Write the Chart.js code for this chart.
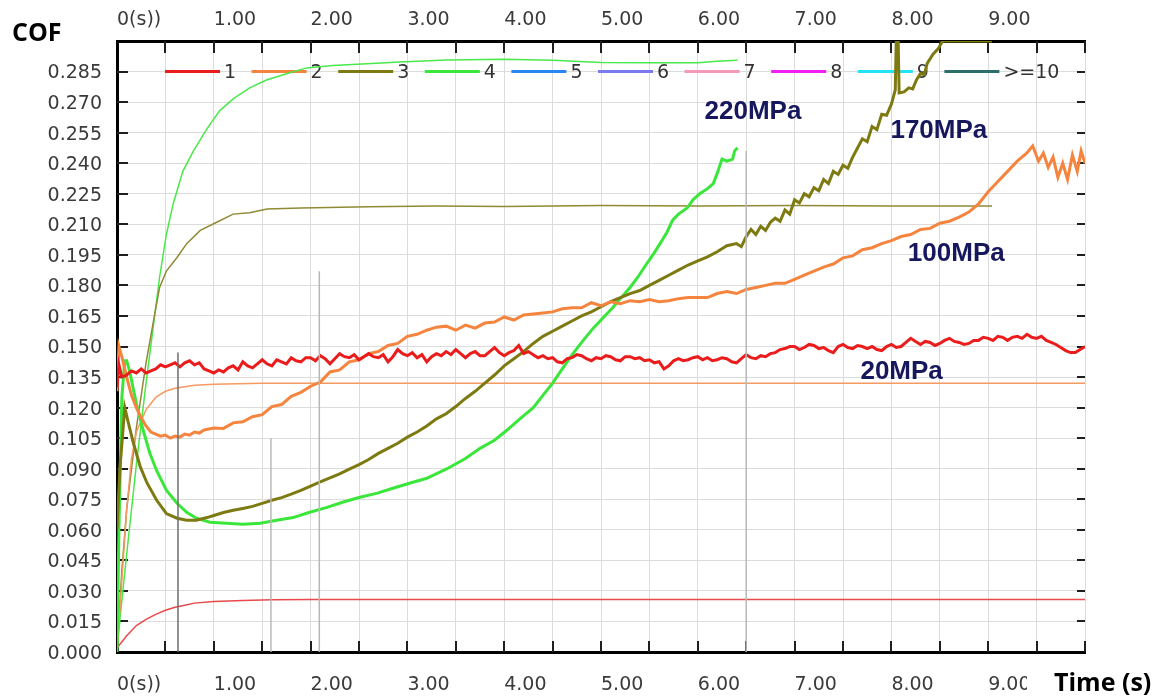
<!DOCTYPE html>
<html>
<head>
<meta charset="utf-8">
<title>COF vs time</title>
<script src="https://cdn.jsdelivr.net/npm/chart.js@4.4.1/dist/chart.umd.min.js"></script>
<style>
  html, body { margin: 0; padding: 0; background: #fff; }
  #wrap { position: relative; width: 1161px; height: 698px; }
</style>
</head>
<body>
<div id="wrap"><canvas id="cofChart"></canvas></div>
<script>
// ---- data (time in s, COF) ----

// 20MPa, thick COF trace
const redThickT = [
  0, 0.02, 0.05, 0.1, 0.15, 0.2, 0.25, 0.3, 0.35, 0.4, 0.45, 0.5, 0.55, 0.6, 0.65, 0.7, 0.75, 0.8, 0.85, 0.9, 0.95,
  1.00, 1.05, 1.10, 1.15, 1.20, 1.25, 1.30, 1.35, 1.40, 1.45, 1.50, 1.55, 1.60, 1.65, 1.70, 1.75, 1.80, 1.85, 1.90, 1.95,
  2.00, 2.05, 2.10, 2.15, 2.20, 2.25, 2.30, 2.35, 2.40, 2.45, 2.50, 2.55, 2.60, 2.65, 2.70, 2.75, 2.80, 2.85, 2.90, 2.95,
  3.00, 3.05, 3.10, 3.15, 3.20, 3.25, 3.30, 3.35, 3.40, 3.45, 3.50, 3.55, 3.60, 3.65, 3.70, 3.75, 3.80, 3.85, 3.90, 3.95,
  4.00, 4.05, 4.10, 4.15, 4.20, 4.25, 4.30, 4.35, 4.40, 4.45, 4.50, 4.55, 4.60, 4.65, 4.70, 4.75, 4.80, 4.85, 4.90, 4.95,
  5.00, 5.05, 5.10, 5.15, 5.20, 5.25, 5.30, 5.35, 5.40, 5.45, 5.50, 5.55, 5.60, 5.65, 5.70, 5.75, 5.80, 5.85, 5.90, 5.95,
  6.00, 6.05, 6.10, 6.15, 6.20, 6.25, 6.30, 6.35, 6.40, 6.45, 6.50, 6.55, 6.60, 6.65, 6.70, 6.75, 6.80, 6.85, 6.90, 6.95,
  7.00, 7.05, 7.10, 7.15, 7.20, 7.25, 7.30, 7.35, 7.40, 7.45, 7.50, 7.55, 7.60, 7.65, 7.70, 7.75, 7.80, 7.85, 7.90, 7.95,
  8.00, 8.05, 8.10, 8.15, 8.20, 8.25, 8.30, 8.35, 8.40, 8.45, 8.50, 8.55, 8.60, 8.65, 8.70, 8.75, 8.80, 8.85, 8.90, 8.95,
  9.00, 9.05, 9.10, 9.15, 9.20, 9.25, 9.30, 9.35, 9.40, 9.45, 9.50, 9.55, 9.60, 9.65, 9.70, 9.75, 9.80, 9.85, 9.90, 9.95, 10.00
];
const redThickV = [
  0.130, 0.141, 0.135, 0.136, 0.138, 0.137, 0.139, 0.137, 0.138, 0.139, 0.141, 0.140, 0.141, 0.142, 0.140, 0.142, 0.143, 0.141, 0.142, 0.139, 0.138,
  0.1370, 0.1385, 0.1375, 0.1395, 0.1405, 0.1385, 0.1425, 0.1405, 0.1395, 0.1415, 0.1435, 0.1415, 0.1405, 0.1435, 0.1425, 0.1415, 0.1445, 0.1430, 0.1425, 0.1445,
  0.1445, 0.1430, 0.1455, 0.1440, 0.1415, 0.1440, 0.1465, 0.1450, 0.1445, 0.1460, 0.1435, 0.1450, 0.1465, 0.1450, 0.1445, 0.1460, 0.1425, 0.1450, 0.1485, 0.1465,
  0.1455, 0.1470, 0.1445, 0.1460, 0.1425, 0.1450, 0.1465, 0.1455, 0.1475, 0.1460, 0.1485, 0.1465, 0.1445, 0.1465, 0.1475, 0.1455, 0.1455, 0.1475, 0.1495, 0.1470,
  0.1455, 0.1470, 0.1480, 0.1505, 0.1465, 0.1475, 0.1460, 0.1445, 0.1455, 0.1440, 0.1445, 0.1425, 0.1420, 0.1440, 0.1445, 0.1460, 0.1455, 0.1440, 0.1430, 0.1445,
  0.1440, 0.1455, 0.1450, 0.1435, 0.1430, 0.1450, 0.1450, 0.1440, 0.1445, 0.1430, 0.1435, 0.1420, 0.1425, 0.1390, 0.1405, 0.1430, 0.1440, 0.1430, 0.1435, 0.1445,
  0.1450, 0.1435, 0.1445, 0.1430, 0.1435, 0.1445, 0.1440, 0.1425, 0.1420, 0.1440, 0.1460, 0.1445, 0.1440, 0.1455, 0.1450, 0.1465, 0.1470, 0.1485, 0.1490, 0.1500,
  0.1500, 0.1485, 0.1495, 0.1510, 0.1505, 0.1490, 0.1495, 0.1480, 0.1470, 0.1500, 0.1510, 0.1495, 0.1490, 0.1505, 0.1500, 0.1490, 0.1500, 0.1485, 0.1480, 0.1500,
  0.1510, 0.1495, 0.1500, 0.1520, 0.1540, 0.1525, 0.1510, 0.1525, 0.1520, 0.1505, 0.1515, 0.1530, 0.1540, 0.1525, 0.1520, 0.1510, 0.1515, 0.1530, 0.1530, 0.1545,
  0.1540, 0.1530, 0.1550, 0.1545, 0.1530, 0.1545, 0.1550, 0.1540, 0.1560, 0.1545, 0.1540, 0.1550, 0.1530, 0.1520, 0.1510, 0.1495, 0.1480, 0.1470, 0.1470, 0.1485, 0.1500
];
// 20MPa, thin trace
const redThinT = [0, 0.1, 0.2, 0.3, 0.4, 0.5, 0.6, 0.7, 0.8, 1.0, 1.3, 1.6, 2.0, 10.0];
const redThinV = [0.002, 0.008, 0.013, 0.016, 0.0185, 0.0205, 0.022, 0.023, 0.024, 0.0248, 0.0253, 0.0256, 0.0258, 0.0258];

// 100MPa, thick COF trace
const orangeThickT = [
  0, 0.02, 0.05, 0.1, 0.15, 0.2, 0.25, 0.3, 0.35, 0.4, 0.45, 0.5, 0.55, 0.6, 0.65, 0.7, 0.75, 0.8, 0.85, 0.9,
  1.0, 1.1, 1.2, 1.3, 1.4, 1.5, 1.6, 1.7, 1.8, 1.9,
  2.0, 2.1, 2.2, 2.3, 2.4, 2.5, 2.6, 2.7, 2.8, 2.9,
  3.0, 3.1, 3.2, 3.3, 3.4, 3.5, 3.6, 3.7, 3.8, 3.9,
  4.0, 4.1, 4.2, 4.3, 4.4, 4.5, 4.6, 4.7, 4.8, 4.9,
  5.0, 5.1, 5.2, 5.3, 5.4, 5.5, 5.6, 5.7, 5.8, 5.9,
  6.0, 6.1, 6.2, 6.3, 6.4, 6.5, 6.6, 6.7, 6.8, 6.9,
  7.0, 7.1, 7.2, 7.3, 7.4, 7.5, 7.6, 7.7, 7.8, 7.9,
  8.0, 8.1, 8.2, 8.3, 8.4, 8.5, 8.6, 8.7, 8.8, 8.9,
  9.0, 9.1, 9.2, 9.3, 9.4, 9.46, 9.52, 9.57, 9.62, 9.67, 9.72, 9.77, 9.82, 9.87, 9.92, 9.96, 10.0
];
const orangeThickV = [
  0.128, 0.150, 0.145, 0.135, 0.126, 0.120, 0.115, 0.111, 0.108, 0.107, 0.106, 0.1065, 0.105, 0.106, 0.1055, 0.107, 0.1065, 0.108, 0.1075, 0.109,
  0.110, 0.1098, 0.1125, 0.113, 0.1155, 0.1165, 0.1205, 0.1215, 0.1255, 0.1275,
  0.1305, 0.1325, 0.1375, 0.1385, 0.1425, 0.1435, 0.1465, 0.1475, 0.1505, 0.1515,
  0.1550, 0.1560, 0.1580, 0.1595, 0.1600, 0.1580, 0.1605, 0.1590, 0.1615, 0.1620,
  0.1645, 0.1630, 0.1655, 0.1660, 0.1665, 0.1670, 0.1685, 0.1690, 0.1690, 0.1715,
  0.1700, 0.1720, 0.1710, 0.1725, 0.1720, 0.1730, 0.1720, 0.1725, 0.1735, 0.1740,
  0.1740, 0.1740, 0.1760, 0.1770, 0.1760, 0.1780, 0.1790, 0.1800, 0.1810, 0.1810,
  0.1830, 0.1850, 0.1870, 0.1890, 0.1905, 0.1935, 0.1945, 0.1975, 0.1985, 0.2005,
  0.2020, 0.2040, 0.2050, 0.2075, 0.2080, 0.2105, 0.2115, 0.2135, 0.2160, 0.2200,
  0.226, 0.231, 0.236, 0.241, 0.245, 0.2485, 0.241, 0.245, 0.238, 0.243, 0.233, 0.240, 0.232, 0.244, 0.236, 0.246, 0.240
];
// 100MPa, thin trace
const orangeThinT = [0, 0.05, 0.1, 0.15, 0.2, 0.3, 0.4, 0.5, 0.6, 0.8, 1.0, 1.5, 2.0, 10.0];
const orangeThinV = [0, 0.035, 0.07, 0.095, 0.108, 0.119, 0.125, 0.128, 0.1295, 0.131, 0.1315, 0.132, 0.132, 0.132];

// 170MPa, thick COF trace
const oliveThickT = [
  0, 0.03, 0.08, 0.12, 0.17, 0.24, 0.31, 0.41, 0.51, 0.62, 0.72, 0.82, 0.93,
  1.0, 1.1, 1.2, 1.3, 1.4, 1.5, 1.6, 1.7, 1.8, 1.9,
  2.0, 2.1, 2.2, 2.3, 2.4, 2.5, 2.6, 2.7, 2.8, 2.9,
  3.0, 3.1, 3.2, 3.3, 3.4, 3.5, 3.6, 3.7, 3.8, 3.9,
  4.0, 4.1, 4.2, 4.3, 4.4, 4.5, 4.6, 4.7, 4.8, 4.9,
  5.0, 5.1, 5.2, 5.3, 5.4, 5.5, 5.6, 5.7, 5.8, 5.9,
  6.0, 6.1, 6.2, 6.3, 6.4, 6.45, 6.5, 6.55, 6.6, 6.65, 6.7, 6.75, 6.8, 6.85, 6.9, 6.95,
  7.0, 7.05, 7.1, 7.15, 7.2, 7.25, 7.3, 7.35, 7.4, 7.45, 7.5, 7.55, 7.6, 7.65, 7.7, 7.75, 7.8, 7.85, 7.9, 7.95,
  8.0, 8.04, 8.05, 8.07, 8.08, 8.13, 8.18, 8.22, 8.26, 8.3, 8.34, 8.37, 8.43, 8.48, 8.53, 9.04
];
const oliveThickV = [
  0.060, 0.090, 0.120, 0.112, 0.1025, 0.091, 0.083, 0.0745, 0.068, 0.0657, 0.0647, 0.0647, 0.066,
  0.067, 0.0685, 0.0696, 0.0705, 0.0715, 0.073, 0.0745, 0.0758, 0.0775, 0.0794,
  0.0815, 0.0835, 0.0855, 0.0875, 0.0898, 0.092, 0.0945, 0.0975, 0.100, 0.1025,
  0.1055, 0.108, 0.111, 0.1145, 0.117, 0.1205, 0.1245, 0.128, 0.132, 0.136,
  0.1405, 0.144, 0.1475, 0.1515, 0.155, 0.1575, 0.160, 0.1625, 0.165, 0.167,
  0.1695, 0.172, 0.174, 0.176, 0.1775, 0.180, 0.1825, 0.185, 0.1875, 0.190,
  0.192, 0.194, 0.1965, 0.1995, 0.2005, 0.199, 0.204, 0.2075, 0.205, 0.209, 0.207, 0.211, 0.213, 0.2115, 0.217, 0.215,
  0.222, 0.2205, 0.225, 0.2235, 0.228, 0.2265, 0.232, 0.230, 0.236, 0.2345, 0.239, 0.2375, 0.243, 0.2475, 0.252, 0.2505, 0.258, 0.2565, 0.264, 0.2635,
  0.269, 0.276, 0.300, 0.300, 0.2745, 0.275, 0.277, 0.2765, 0.281, 0.284, 0.2835, 0.289, 0.2935, 0.296, 0.300, 0.300
];
// 170MPa, thin trace
const oliveThinT = [0, 0.05, 0.1, 0.2, 0.3, 0.39, 0.44, 0.51, 0.62, 0.72, 0.86, 1.03, 1.2, 1.37, 1.55, 1.9, 2.6, 3.3, 4.0, 5.0, 6.0, 7.0, 8.0, 9.04];
const oliveThinV = [0, 0.04, 0.07, 0.11, 0.142, 0.166, 0.179, 0.187, 0.1937, 0.2005, 0.207, 0.211, 0.215, 0.2157, 0.2175, 0.218, 0.2186, 0.219, 0.2188, 0.2192, 0.219, 0.2192, 0.219, 0.219];

// 220MPa, thick COF trace
const greenThickT = [
  0, 0.02, 0.05, 0.08, 0.1, 0.13, 0.2, 0.27, 0.34, 0.41, 0.51, 0.62, 0.72, 0.82, 0.96,
  1.13, 1.3, 1.48, 1.65, 1.82, 1.99, 2.17, 2.33, 2.51, 2.69, 2.85, 3.03, 3.2, 3.41, 3.6, 3.75, 3.9,
  4.03, 4.15, 4.3, 4.4, 4.5, 4.6, 4.71, 4.8, 4.92, 5.02, 5.12, 5.2, 5.3, 5.38, 5.47, 5.55,
  5.61, 5.68, 5.74, 5.8, 5.89, 5.95, 6.02, 6.1, 6.16, 6.2, 6.25, 6.3, 6.36, 6.38, 6.41
];
const greenThickV = [
  0.000, 0.060, 0.125, 0.143, 0.143, 0.138, 0.122, 0.109, 0.0975, 0.089, 0.0794, 0.073, 0.0686, 0.0657, 0.0637,
  0.0632, 0.0627, 0.0632, 0.0647, 0.066, 0.0686, 0.071, 0.0735, 0.076, 0.078, 0.0804, 0.083, 0.0853, 0.090, 0.095, 0.100, 0.104,
  0.109, 0.114, 0.120, 0.126, 0.132, 0.139, 0.1465, 0.152, 0.159, 0.164, 0.169, 0.1735, 0.179, 0.184, 0.1905, 0.196,
  0.2005, 0.206, 0.212, 0.215, 0.218, 0.222, 0.225, 0.2275, 0.230, 0.235, 0.242, 0.241, 0.242, 0.246, 0.2476
];
// 220MPa, thin trace
const greenThinT = [0, 0.03, 0.1, 0.2, 0.3, 0.37, 0.44, 0.51, 0.58, 0.68, 0.79, 0.93, 1.06, 1.2, 1.37, 1.55, 1.76, 1.96, 2.23, 2.58, 2.92, 3.41, 4.0, 4.5, 5.0, 5.5, 6.0, 6.2, 6.41];
const greenThinV = [0, 0.016, 0.048, 0.092, 0.132, 0.158, 0.184, 0.205, 0.220, 0.236, 0.246, 0.257, 0.2657, 0.2716, 0.277, 0.281, 0.284, 0.2868, 0.288, 0.2888, 0.2897, 0.2907, 0.291, 0.2905, 0.2895, 0.2893, 0.2893, 0.290, 0.2905];

// grey cursor lines left by the recording software
const markerT = [0.63, 1.59, 2.09, 6.50];
const markerTop = [0.147, 0.105, 0.187, 0.246];

// legend of the instrument (channels 1 .. >=10)
const legendLabels = ['1', '2', '3', '4', '5', '6', '7', '8', '9', '>=10'];
const legendColors = ['#ea1c1c', '#f5843e', '#7d7a12', '#3be63b', '#2a86f0', '#7b7bef', '#f49ab8', '#f020f0', '#22e4f4', '#2e6e6a'];

// pressure annotations
const pressureLabels = ['220MPa', '170MPa', '100MPa', '20MPa'];
const pressureX = [6.07, 7.99, 8.17, 7.68];
const pressureY = [0.2652, 0.2559, 0.1956, 0.1377];

// ---- chart ----
Chart.defaults.font.family = '"DejaVu Sans", sans-serif';

function lineSet(ts, vs, color, width) {
  return {
    data: ts.map((t, i) => ({ x: t, y: vs[i] })),
    borderColor: color,
    borderWidth: width,
    pointRadius: 0,
    fill: false,
    tension: 0,
    xAxisID: 'x',
    yAxisID: 'y'
  };
}

const markerSets = markerT.map((t, i) =>
  lineSet([t, t], [0, markerTop[i]], i === 0 ? '#6c6c6c' : '#b8b8b8', 1.5));

const datasets = [
  ...markerSets,
  lineSet(redThickT, redThickV, '#ea1c1c', 3),
  lineSet(orangeThickT, orangeThickV, '#f5843e', 3),
  lineSet(oliveThickT, oliveThickV, '#7d7a12', 3),
  lineSet(greenThickT, greenThickV, '#3be63b', 3),
  lineSet(redThinT, redThinV, '#e8494a', 1.5),
  lineSet(orangeThinT, orangeThinV, '#f59a60', 1.5),
  lineSet(oliveThinT, oliveThinV, '#908a34', 1.5),
  lineSet(greenThinT, greenThinV, '#4ae84a', 1.5)
];

function xLabel(v) {
  if (Math.abs(v - Math.round(v)) > 1e-6 || v >= 10) return '';
  return v === 0 ? '0(s))' : v.toFixed(2);
}

const tickFont = { size: 19 };
const tickColor = '#3a3a3a';

// short tick marks drawn inward on all four sides
function drawInnerTicks(chart) {
  const { ctx, chartArea } = chart;
  const sx = chart.scales.x, sy = chart.scales.y;
  ctx.save();
  ctx.strokeStyle = '#1f1f1f';
  ctx.lineWidth = 2;
  ctx.beginPath();
  sx.ticks.forEach((tk) => {
    const p = Math.round(sx.getPixelForValue(tk.value));
    if (p <= chartArea.left + 1) return;
    ctx.moveTo(p, chartArea.top);
    ctx.lineTo(p, chartArea.top + 12);
    ctx.moveTo(p, chartArea.bottom);
    ctx.lineTo(p, chartArea.bottom - 11);
  });
  sy.ticks.forEach((tk) => {
    const p = Math.round(sy.getPixelForValue(tk.value));
    if (p <= chartArea.top + 1 || p >= chartArea.bottom - 1) return;
    ctx.moveTo(chartArea.left, p);
    ctx.lineTo(chartArea.left + 11, p);
    ctx.moveTo(chartArea.right, p);
    ctx.lineTo(chartArea.right - 8, p);
  });
  ctx.stroke();
  ctx.restore();
}

const overlay = {
  id: 'overlay',
  beforeDatasetsDraw(chart) {
    const { ctx, chartArea } = chart;
    drawInnerTicks(chart);
    const y = chart.scales.y.getPixelForValue(0.285);
    ctx.save();
    ctx.font = '19px "DejaVu Sans"';
    ctx.textBaseline = 'middle';
    ctx.fillStyle = '#333';
    legendLabels.forEach((lab, i) => {
      const x0 = chartArea.left + 48 + i * 86.6;
      ctx.strokeStyle = legendColors[i];
      ctx.lineWidth = 3;
      ctx.beginPath();
      ctx.moveTo(x0, y);
      ctx.lineTo(x0 + 55, y);
      ctx.stroke();
      ctx.fillText(lab, x0 + 59, y + 2);
    });
    ctx.restore();
  },
  afterDraw(chart) {
    const { ctx } = chart;
    const sx = chart.scales.x, sy = chart.scales.y;
    ctx.save();
    ctx.textBaseline = 'middle';
    ctx.font = 'bold 26px "Liberation Sans", Arial, sans-serif';
    ctx.fillStyle = '#16175c';
    pressureLabels.forEach((lab, i) => {
      ctx.fillText(lab, sx.getPixelForValue(pressureX[i]), sy.getPixelForValue(pressureY[i]));
    });
    // axis titles
    ctx.fillStyle = '#000';
    ctx.font = 'bold 25px "Open Sans", sans-serif';
    ctx.fillText('COF', 12, 34);
    ctx.fillStyle = '#fff';
    ctx.fillRect(1027, 655, 134, 43);
    ctx.fillStyle = '#000';
    ctx.fillText('Time (s)', 1054, 684);
    ctx.restore();
  }
};

new Chart(document.getElementById('cofChart'), {
  type: 'line',
  data: { datasets },
  options: {
    responsive: true,
    maintainAspectRatio: false,
    animation: false,
    layout: { padding: { right: 76 } },
    plugins: { legend: { display: false }, tooltip: { enabled: false } },
    scales: {
      x: {
        type: 'linear', position: 'bottom', min: 0, max: 10,
        ticks: { stepSize: 0.5, autoSkip: false, maxRotation: 0, align: 'start', padding: 22, color: tickColor, font: tickFont, callback: xLabel },
        grid: { color: '#dcdcdc', lineWidth: 1, drawTicks: false },
        border: { color: '#000', width: 3 },
        afterFit: (s) => { s.height = 46; }
      },
      x2: {
        type: 'linear', position: 'top', min: 0, max: 10,
        ticks: { stepSize: 0.5, autoSkip: false, maxRotation: 0, align: 'start', padding: 10, color: tickColor, font: tickFont, callback: xLabel },
        grid: { drawOnChartArea: false, drawTicks: false },
        border: { color: '#000', width: 3 },
        afterFit: (s) => { s.height = 41; }
      },
      y: {
        type: 'linear', position: 'left', min: 0, max: 0.3,
        ticks: { stepSize: 0.015, autoSkip: false, padding: 15, labelOffset: 2, color: tickColor, font: tickFont,
          callback: (v) => (v > 0.2995 ? '' : v.toFixed(3)) },
        grid: { color: '#dcdcdc', lineWidth: 1, drawTicks: false },
        border: { color: '#000', width: 3 },
        afterFit: (s) => { s.width = 117; }
      }
    }
  },
  plugins: [overlay]
});
</script>
</body>
</html>
